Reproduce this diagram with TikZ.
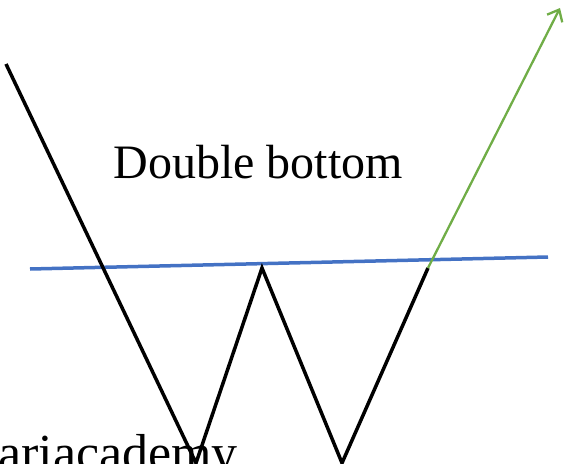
\documentclass[tikz,border=0pt]{standalone}
\usepackage{fontspec}
\setmainfont{Liberation Serif}
\usetikzlibrary{arrows.meta}
\definecolor{lineblue}{HTML}{4472C4}
\definecolor{linegreen}{HTML}{70AD47}
\tikzset{
  price/.style={line width=3.5pt, black, line join=miter},
  level/.style={line width=3.5pt, lineblue},
  breakout/.style={line width=2.3pt, linegreen, -{Straight Barb[length=10pt,width=17pt,line width=2.3pt]}},
  label/.style={font=\fontsize{48}{56}\selectfont, inner sep=0pt},
  wmark/.style={font=\fontsize{52}{60}\selectfont, inner sep=0pt}
}
\begin{document}
\begin{tikzpicture}[x=1pt,y=-1pt]
\useasboundingbox (0,0) rectangle (564,463);
\clip (0,0) rectangle (564,463);
\coordinate (s) at (6,64);
\coordinate (v1) at (196,463);
\coordinate (pk) at (262,268);
\coordinate (v2) at (342,463);
\coordinate (br) at (428,268);
\coordinate (tg) at (560,8);
\coordinate (bl) at (30,269);
\coordinate (brr) at (548,257);
\draw[level] (bl) -- (brr);
\draw[price] (s) -- (v1) -- (pk) -- (v2) -- (br);
\draw[breakout] (br) -- (tg);
\node[label, anchor=base] (title) at (258,178) {Double bottom};
\node[wmark, anchor=base west] (wm) at (-2,470) {ariacademy};
\end{tikzpicture}
\end{document}
